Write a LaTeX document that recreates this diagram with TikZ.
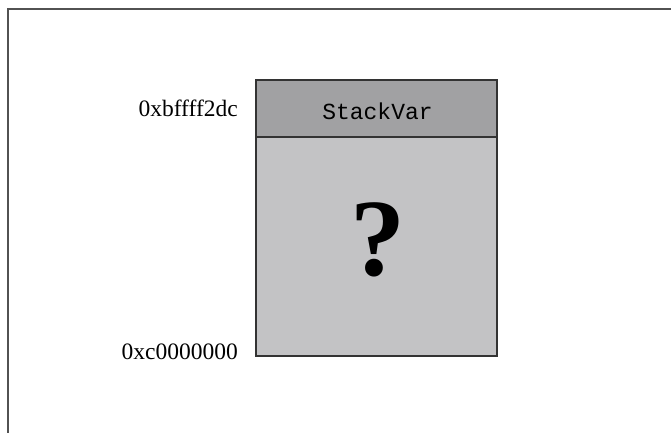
\documentclass[tikz,border=0pt]{standalone}
\usepackage{fontspec}
\setmainfont{Liberation Serif}
\setmonofont{Liberation Mono}
\definecolor{cellhead}{HTML}{A1A1A3}
\definecolor{cellbody}{HTML}{C3C3C5}
\begin{document}
\begin{tikzpicture}[x=1pt,y=-1pt,
  framestroke/.style={draw=black!68, line width=2pt},
  cell/.style={draw=black!80, line width=1.6pt, minimum width=241pt, inner sep=0pt, outer sep=0pt},
  addr/.style={anchor=base east, inner sep=0pt, font=\fontsize{23.5}{26}\selectfont}]
  \useasboundingbox (0,0) rectangle (671,433);
  % page frame: top and left rules
  \coordinate (ftl) at (8,9);
  \coordinate (ftr) at (671,9);
  \coordinate (fbl) at (8,433);
  \draw[framestroke] (ftr) -- (ftl) -- (fbl);
  % stack cells
  \node[cell, fill=cellbody, minimum height=219pt] (unk) at (376.5,246.5) {};
  \node[cell, fill=cellhead, minimum height=57pt] (var) at (376.5,108.5) {};
  \node[anchor=base, inner sep=0pt, font=\fontsize{23}{26}\ttfamily] (varlabel) at (377.5,119) {StackVar};
  \node[anchor=base, inner sep=0pt, font=\fontsize{110}{120}\selectfont\bfseries] (q) at (378,275) {?};
  % addresses
  \node[addr] (atop) at (238,117) {0xbffff2dc};
  \node[addr] (abot) at (238,359) {0xc0000000};
\end{tikzpicture}
\end{document}
